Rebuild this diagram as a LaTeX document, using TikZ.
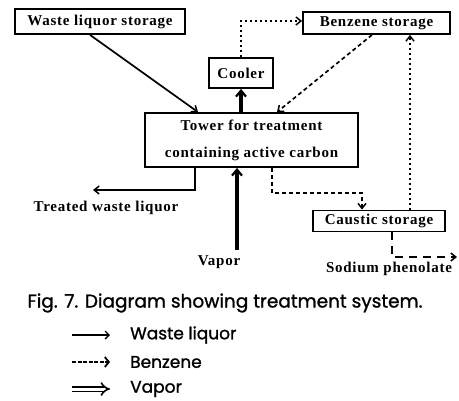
\documentclass[tikz,border=0pt]{standalone}
\usepackage{fontspec}
\setmainfont{Liberation Serif}
\newfontfamily\capfont[FakeBold=1.2]{Poppins}
\usetikzlibrary{arrows.meta}
\begin{document}
\begin{tikzpicture}[x=1pt,y=-1pt,
  lbl/.style={font=\addfontfeatures{LetterSpace=5}\bfseries\fontsize{15}{17}\selectfont, inner sep=0pt},
  box/.style={lbl, draw, line width=1.8pt},
  tip/.style={-{Straight Barb[length=5pt,width=8pt,line width=1.5pt]}},
  liq/.style={line width=1.7pt, tip},
  benz/.style={line width=1.7pt, dash pattern=on 4pt off 3pt, tip},
  benzdot/.style={line width=1.8pt, dash pattern=on 2pt off 3pt, tip},
  vap/.style={line width=3.5pt, -{Straight Barb[length=6pt,width=10pt,line width=2.2pt]}},
  captext/.style={font=\capfont\fontsize{18.5}{21}\selectfont, inner sep=0pt},
  leg/.style={font=\capfont\fontsize{17}{20}\selectfont, inner sep=0pt, anchor=west}
]
\useasboundingbox (0,0) rectangle (459,400);
% boxes
\node[box, minimum width=170, minimum height=25] (wls) at (100,21.5) {Waste liquor storage};
\node[box, minimum width=64, minimum height=30] (cooler) at (241,73) {Cooler};
\node[box, minimum width=147, minimum height=22] (benz) at (376.5,23) {Benzene storage};
\node[box, minimum width=213, minimum height=54, align=center] (tower) at (251.5,140)
  {Tower for treatment\\[10pt]containing active carbon};
\node[box, minimum width=132, minimum height=21] (caus) at (379,221) {Caustic storage};
% free labels
\node[lbl] (treated) at (106,208) {Treated waste liquor};
\node[lbl] (vapor) at (219,262) {Vapor};
\node[lbl] (sodium) at (389,269) {Sodium phenolate};
\coordinate (tw) at (93,190);
\coordinate (vs) at (237,250);
\coordinate (sp) at (457,257);
% connectors
\draw[liq] ([xshift=-10]wls.south) -- ([xshift=-53.5]tower.north);
\draw[vap] (tower.north -| cooler.south) -- (cooler.south);
\draw[benzdot] (cooler.north) |- ([yshift=2]benz.west);
\draw[benz] ([xshift=-4.5]benz.south) -- ([xshift=25.5]tower.north);
\draw[benz] ([xshift=20.5]tower.south) -- ++(0,25) -| ([xshift=-17]caus.north);
\draw[benzdot] ([xshift=31]caus.north) -- ([xshift=33.5]benz.south);
\draw[liq] ([xshift=-56.5]tower.south) |- (tw);
\draw[vap] (vs) -- (vs |- tower.south);
\draw[benz, dash pattern=on 8pt off 6pt] ([xshift=13]caus.south) |- (sp);
% caption
\node[captext] (caption) at (225,303) {Fig. 7. Diagram showing treatment system.};
% legend
\coordinate (l1a) at (72,335); \coordinate (l1b) at (110,335);
\coordinate (l2a) at (72,362); \coordinate (l2b) at (110,362);
\coordinate (l3a) at (72,389); \coordinate (l3b) at (110,389);
\draw[line width=1.1pt, -{Straight Barb[length=4pt,width=8pt,line width=1.3pt]}] (l1a) -- (l1b);
\draw[line width=2pt, dash pattern=on 4pt off 1.5pt, -{Straight Barb[length=4pt,width=10pt,line width=1.8pt]}] (l2a) -- (l2b);
\draw[double, double distance=3pt, line width=1.6pt, -{Implies}] (l3a) -- (l3b);
\node[leg] (lw) at (130,335) {Waste liquor};
\node[leg] (lb) at (130,362) {Benzene};
\node[leg] (lv) at (130,389) {Vapor};
\end{tikzpicture}
\end{document}
